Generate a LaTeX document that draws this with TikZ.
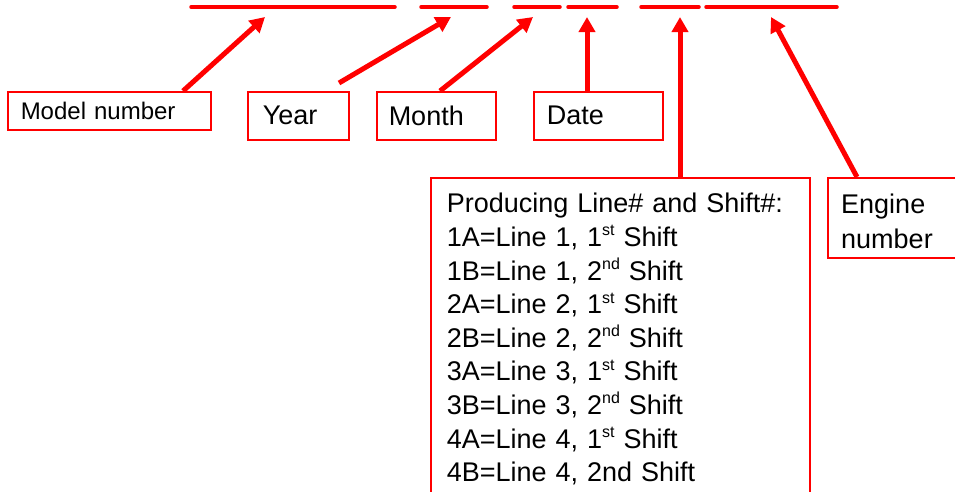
\documentclass[tikz,border=0pt]{standalone}
\usepackage{fontspec}
\setmainfont{Liberation Sans}
\usetikzlibrary{arrows.meta}
\newcommand{\supr}[1]{\raisebox{0.75ex}{\fontsize{16}{16}\selectfont #1}}
\begin{document}
\begin{tikzpicture}[x=1pt,y=-1pt,
  box/.style={draw=red, line width=1.5pt, anchor=north west, align=left, inner ysep=0pt},
  big/.style={font=\fontsize{27}{33.6}\selectfont},
  small/.style={font=\fontsize{24}{28}\selectfont},
  arr/.style={draw=red, line width=5pt, -{Triangle[length=15pt,width=16pt]}},
  seg/.style={draw=red, line width=3.5pt, line cap=round}]
\useasboundingbox (0,0) rectangle (955,491);
% top segments
\draw[seg] (191,7) -- (395,7);
\draw[seg] (421,7) -- (487,7);
\draw[seg] (514,7) -- (560,7);
\draw[seg] (568,7) -- (617,7);
\draw[seg] (641,7) -- (699,7);
\draw[seg] (706,7) -- (837,7);
% arrow tips
\coordinate (tModel) at (265,17);
\coordinate (tYear) at (451,17);
\coordinate (tMonth) at (533,17);
\coordinate (tDate) at (587,17);
\coordinate (tLine) at (680,17);
\coordinate (tEngine) at (771,17);
% boxes
\node[box, small, inner xsep=13pt, text width=177pt, minimum height=38pt] (mb) at (7,91) {Model number};
\node[box, big, inner xsep=15pt, text width=71pt, minimum height=48pt] (yr) at (247,91) {Year};
\node[box, big, inner xsep=12pt, text width=95pt, minimum height=48pt] (mo) at (376,91) {Month};
\node[box, big, inner xsep=13pt, text width=103pt, minimum height=48pt] (dt) at (533,91) {Date};
\node[box, inner sep=0pt, minimum width=140pt, minimum height=80pt] (en) at (827,177) {};
\node[anchor=north west, inner sep=0pt, align=left, font=\fontsize{27}{35}\selectfont] (entxt) at (841,194) {Engine\\number};
\node[box, big, inner xsep=16pt, text width=347pt, minimum height=323pt] (bb) at (430,177)
 {Producing Line\# and Shift\#:\\
  1A=Line 1, 1\supr{st} Shift\\
  1B=Line 1, 2\supr{nd} Shift\\
  2A=Line 2, 1\supr{st} Shift\\
  2B=Line 2, 2\supr{nd} Shift\\
  3A=Line 3, 1\supr{st} Shift\\
  3B=Line 3, 2\supr{nd} Shift\\
  4A=Line 4, 1\supr{st} Shift\\
  4B=Line 4, 2nd Shift};
% arrows
\draw[arr] ([xshift=176pt]mb.north west) -- (tModel);
\draw[arr] ([xshift=92pt,yshift=8pt]yr.north west) -- (tYear);
\draw[arr] ([xshift=64pt]mo.north west) -- (tMonth);
\draw[arr] ([xshift=54pt]dt.north west) -- (tDate);
\draw[arr] ([xshift=250pt]bb.north west) -- (tLine);
\draw[arr] ([xshift=30pt]en.north west) -- (tEngine);
\end{tikzpicture}
\end{document}
